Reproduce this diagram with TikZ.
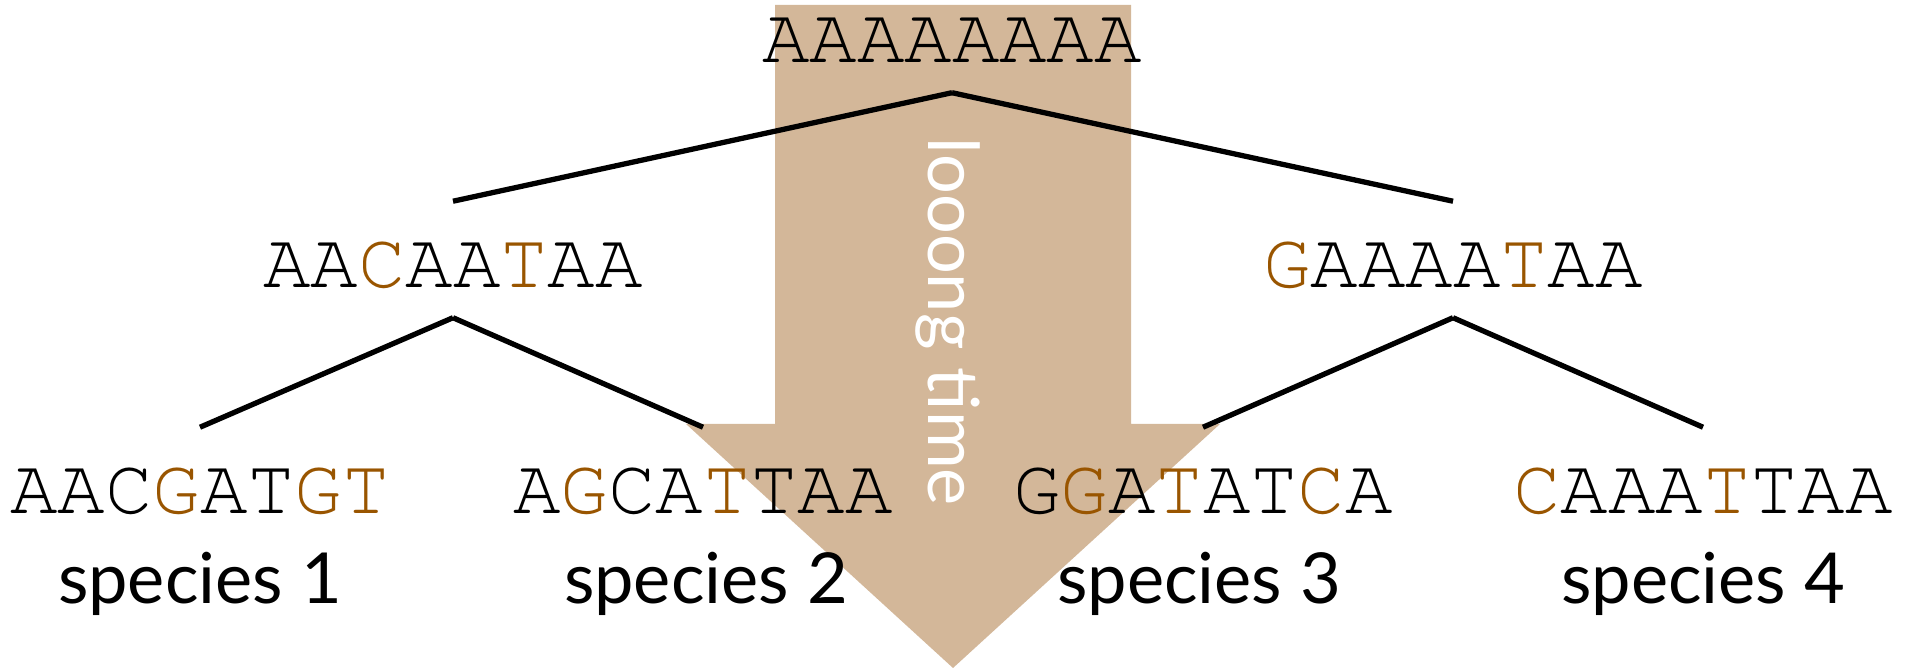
\documentclass[tikz,border=0pt]{standalone}
\usepackage[T1]{fontenc}
\usepackage{fontspec}
\newfontfamily\labfont{Lato}
\definecolor{arrowtan}{HTML}{D3B799}
\definecolor{mutbrown}{HTML}{995500}
\newcommand{\seqfont}{\fontencoding{T1}\fontfamily{pcr}\fontsize{22.5}{27}\selectfont}
\newcommand{\mut}[1]{\textcolor{mutbrown}{#1}}

\begin{document}
\begin{tikzpicture}[x=0.01cm, y=-0.01cm,
		seq/.style={font=\seqfont, anchor=base, inner sep=0pt, text height=0.44cm, text depth=0pt},
		spec/.style={font=\labfont\fontsize{20}{24}\selectfont, anchor=base, inner sep=0pt},
		branch/.style={line width=1.5pt}]
		    \useasboundingbox (0,0) rectangle (1913,668);
		    % time arrow, behind the tree
		    \fill[arrowtan] (775,5) -- (1131,5) -- (1131,424) -- (1220,424) -- (953,668) -- (686,424) -- (775,424) -- cycle;
		    \node[font=\labfont\fontsize{20}{24}\selectfont, text=white, rotate=-90, anchor=base west, inner sep=0pt] (time) at (928,137) {looong time};

		    \node[seq] (root) at (952,63) {AAAAAAAA};
		    \node[seq] (anc1) at (453,288) {AA\mut{C}AA\mut{T}AA};
		    \node[seq] (anc2) at (1453,288) {\mut{G}AAAA\mut{T}AA};
		    \node[seq] (sp1) at (200,514) {AAC\mut{G}AT\mut{GT}};
		    \node[seq] (sp2) at (703,514) {A\mut{G}CA\mut{T}TAA};
		    \node[seq] (sp3) at (1203,514) {G\mut{G}A\mut{T}AT\mut{C}A};
		    \node[seq] (sp4) at (1703,514) {\mut{C}AAA\mut{T}TAA};

		    \node[spec] (lab1) at (200,604) {species 1};
		    \node[spec] (lab2) at (706,604) {species 2};
		    \node[spec] (lab3) at (1199,604) {species 3};
		    \node[spec] (lab4) at (1703,604) {species 4};

		    \foreach \a/\b in {root/anc1, root/anc2, anc1/sp1, anc1/sp2, anc2/sp3, anc2/sp4} {
		        \draw[branch] ([yshift=-0.29cm]\a.south) -- ([yshift=0.42cm]\b.north);
		    }
\end{tikzpicture}
\end{document}
